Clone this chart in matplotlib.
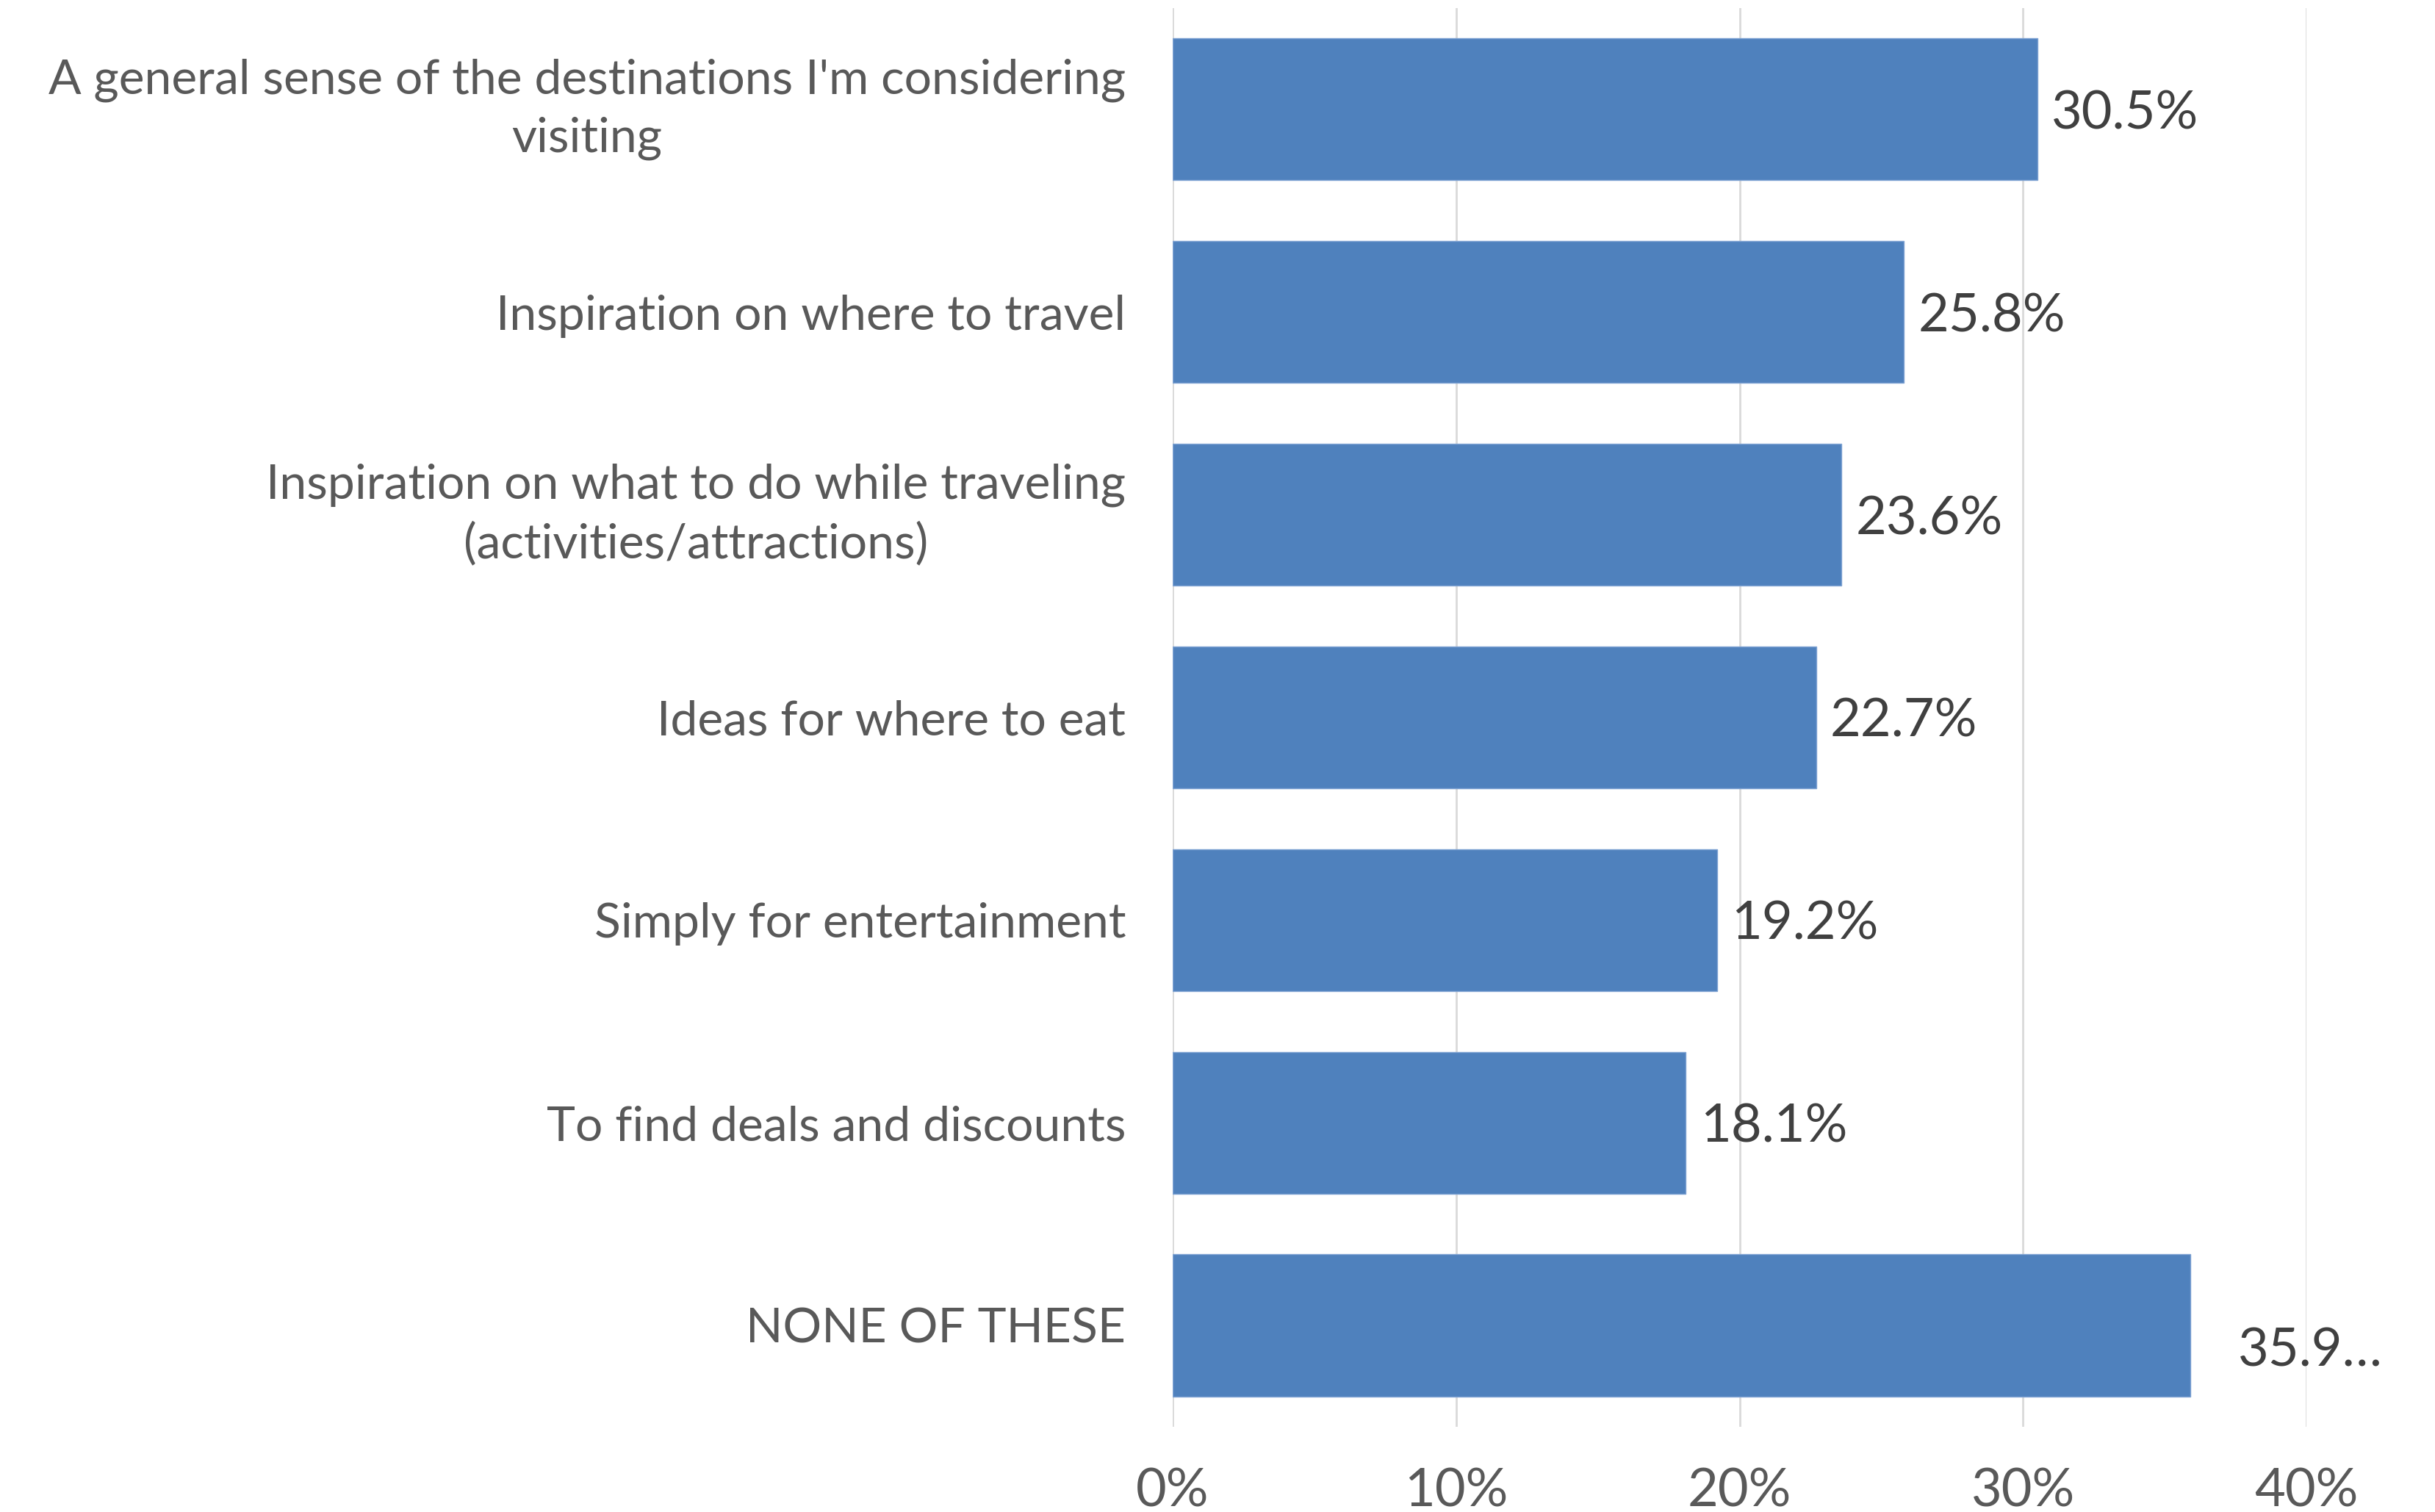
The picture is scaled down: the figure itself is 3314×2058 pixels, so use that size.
import matplotlib
matplotlib.use("Agg")
import matplotlib.pyplot as plt

categories = [
    "A general sense of the destinations I'm considering\nvisiting",
    "Inspiration on where to travel",
    "Inspiration on what to do while traveling\n(activities/attractions)",
    "Ideas for where to eat",
    "Simply for entertainment",
    "To find deals and discounts",
    "NONE OF THESE",
]
values = [30.5, 25.8, 23.6, 22.7, 19.2, 18.1, 35.9]
value_labels = ["30.5%", "25.8%", "23.6%", "22.7%", "19.2%", "18.1%", "35.9…"]
x_ticks = [0, 10, 20, 30, 40]
x_tick_labels = ["0%", "10%", "20%", "30%", "40%"]

FONT = "Lato"
FS = 52
FS_CAT = 47.5
BAR_COLOR = "#4F81BD"
GRID_COLOR = "#D9D9D9"

fig = plt.figure(figsize=(33.14, 20.58), dpi=100)
ax = fig.add_axes([0.4816, 0.0564, 0.9472 - 0.4816, 0.9947 - 0.0564])

ypos = list(range(len(categories)))
ax.barh(ypos, values, height=0.70, color=BAR_COLOR, edgecolor="#7FA3D3",
        linewidth=1.0, zorder=3)

ax.set_xlim(0, 40)
ax.set_ylim(len(categories) - 0.5, -0.5)

ax.set_xticks(x_ticks)
ax.set_xticklabels(x_tick_labels, fontfamily=FONT, fontsize=FS, color="#595959")
ax.set_yticks(ypos)
ax.set_yticklabels(categories, fontfamily=FONT, fontsize=FS_CAT, color="#595959",
                   multialignment="center", linespacing=1.4)
# two-line labels: center the whole block on the bar
for t in ax.get_yticklabels():
    if "\n" in t.get_text():
        t.set_verticalalignment("center")
ax.tick_params(axis="x", length=0, pad=40)
ax.tick_params(axis="y", length=0, pad=46)

ax.grid(axis="x", color=GRID_COLOR, linewidth=2, zorder=0)
for s in ax.spines.values():
    s.set_visible(False)

for i, (v, lab) in enumerate(zip(values, value_labels)):
    if lab.endswith("…"):
        off = (47, -21)
    else:
        off = (14, 0)
    ax.annotate(lab, xy=(v, i), xytext=off, textcoords="offset points",
                ha="left", va="center_baseline", fontfamily=FONT, fontsize=FS,
                color="#404040", zorder=4)

fig.savefig("out.png", dpi=100, facecolor="white")
